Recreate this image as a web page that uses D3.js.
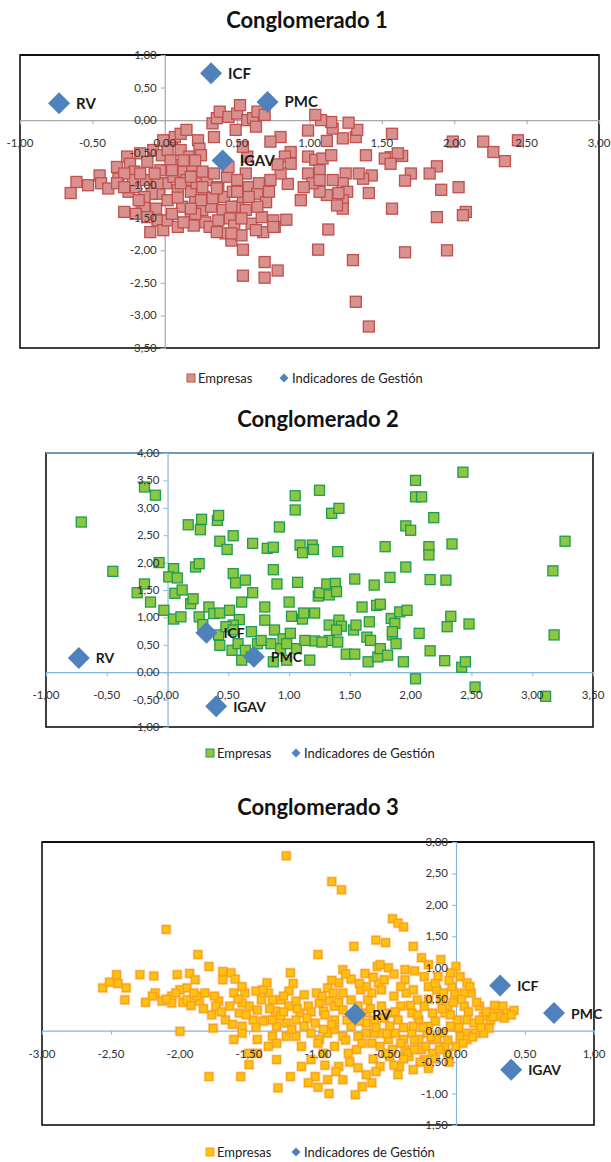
<!DOCTYPE html>
<html>
<head>
<meta charset="utf-8">
<script src="https://cdn.jsdelivr.net/npm/d3@7"></script>
<style>
  html, body { margin: 0; padding: 0; background: #fff; }
  svg { display: block; font-family: Lato, "Open Sans", sans-serif; }
</style>
</head>
<body>
<svg id="chart" width="611" height="1162"></svg>
<script>
// Indicadores de gestión (same coordinates in the three clusters)
const indicatorNames = ["RV", "ICF", "PMC", "IGAV"];
const indicatorX = [-0.73, 0.32, 0.71, 0.40];
const indicatorY = [0.26, 0.72, 0.28, -0.62];

const titles = ["Conglomerado 1", "Conglomerado 2", "Conglomerado 3"];
const legendLabels = ["Empresas", "Indicadores de Gestión"];

// Axis tick values
const ticksX1 = [-1, -0.5, 0, 0.5, 1, 1.5, 2, 2.5, 3];
const ticksY1 = [1, 0.5, 0, -0.5, -1, -1.5, -2, -2.5, -3, -3.5];
const ticksX2 = [-1, -0.5, 0, 0.5, 1, 1.5, 2, 2.5, 3, 3.5];
const ticksY2 = [4, 3.5, 3, 2.5, 2, 1.5, 1, 0.5, 0, -0.5, -1];
const ticksX3 = [-3, -2.5, -2, -1.5, -1, -0.5, 0, 0.5, 1];
const ticksY3 = [3, 2.5, 2, 1.5, 1, 0.5, 0, -0.5, -1, -1.5];

// Empresas, conglomerado 1 [x, y]
const empresas1 = [
  [2.44,-0.31],[2.20,-0.33],[2.27,-0.49],[2.35,-0.63],[1.99,-0.33],[2.03,-1.03],[1.91,-1.07],[1.88,-0.71],
  [1.83,-0.82],[1.70,-0.82],[1.66,-0.93],[2.08,-1.41],[2.06,-1.46],[1.88,-1.49],[1.95,-2.00],[1.66,-2.03],
  [1.57,-1.36],[1.30,-2.15],[1.32,-2.79],[1.41,-3.17],[1.06,-1.99],[1.13,-1.68],[0.78,-2.31],[0.69,-2.18],
  [0.69,-2.42],[0.54,-2.39],[0.54,-1.99],[0.84,-1.53],[0.76,-1.64],[1.57,-0.21],[1.56,-0.57],[1.52,-0.59],
  [1.64,-0.55],[1.61,-0.51],[1.56,-0.67],[1.39,-0.54],[1.43,-0.85],[1.41,-1.12],[1.37,-0.90],[1.32,-0.26],
  [1.33,-0.15],[1.27,-0.04],[1.23,-0.28],[1.16,-0.13],[1.15,-0.03],[1.08,0.00],[1.04,0.08],[1.12,-0.32],
  [0.99,-0.16],[0.80,-0.26],[0.73,-0.33],[0.87,-0.49],[0.83,-0.56],[0.87,-0.67],[0.99,-0.56],[1.04,-0.61],
  [1.09,-0.59],[1.15,-0.54],[1.07,-0.77],[0.99,-0.82],[1.25,-0.82],[1.23,-0.97],[1.26,-1.10],[1.23,-1.23],
  [1.23,-1.36],[1.19,-1.31],[1.16,-0.92],[1.12,-1.15],[1.07,-1.10],[1.02,-0.97],[0.96,-1.03],[0.94,-1.23],
  [1.07,-0.92],[1.34,-0.82],[1.20,-1.12],[0.85,-0.98],[0.80,-0.82],[0.78,-0.68],[0.73,-0.92],
  [-0.65,-1.12],[-0.61,-0.95],[-0.53,-1.00],[-0.45,-0.85],[-0.44,-0.97],[-0.39,-1.05],[-0.33,-0.72],[-0.32,-0.90],
  [-0.28,-1.41],[-0.26,-0.56],[-0.24,-0.67],[-0.25,-1.10],[-0.21,-0.79],[-0.20,-1.03],[-0.17,-0.51],[-0.16,-1.28],
  [-0.14,-1.33],[-0.10,-1.72],[-0.13,-0.92],[-0.12,-0.64],[-0.08,-0.46],[-0.06,-1.36],[-0.05,-1.54],[-0.04,-1.13],
  [-0.03,-0.77],[-0.02,-0.54],[-0.01,-1.69],[0.01,-0.97],[0.02,-1.54],[0.02,-1.23],[0.05,-0.31],[0.06,-0.87],
  [0.07,-0.26],[0.08,-0.69],[0.09,-1.07],[0.11,-0.46],[0.11,-0.21],[0.12,-1.33],[0.13,-0.79],[0.15,-0.92],
  [0.15,-0.15],[0.17,-0.56],[0.18,-1.49],[0.18,-1.10],[0.19,-0.70],[0.20,-1.62],[0.21,-1.26],[0.22,-0.97],
  [0.23,-0.31],[0.24,-0.44],[0.25,-0.54],[0.26,-1.38],[0.27,-1.18],[0.28,-1.57],[0.29,-0.92],[0.31,-1.64],
  [0.32,-1.33],[0.33,-0.05],[0.34,-0.26],[0.36,0.03],[0.37,-1.03],[0.38,0.13],[0.40,-1.38],[0.41,-1.18],
  [0.42,-1.74],[0.43,-0.87],[0.44,0.05],[0.45,-1.51],[0.46,-1.85],[0.47,-1.10],[0.48,-1.62],[0.49,-0.15],
  [0.50,0.10],[0.51,-1.33],[0.52,0.23],[0.53,-1.77],[0.54,-1.18],[0.56,-0.82],[0.57,-0.56],[0.57,0.00],
  [0.58,-1.03],[0.60,-1.59],[0.61,0.03],[0.63,-0.10],[0.64,0.13],[0.64,-1.13],[0.65,-0.97],[0.67,-1.49],
  [0.68,-1.72],[0.69,0.08],[0.70,-1.26],[0.75,-1.54],[0.75,-1.64],[0.63,-1.69],[0.50,-1.10],[0.44,-0.72],
  [0.34,-0.82],[0.26,-0.79],[0.09,-1.64],[0.05,-1.44],[-0.05,-0.97],[-0.09,-1.13],[-0.14,-1.18],[-0.18,-1.23],
  [-0.22,-0.92],[-0.28,-0.82],[-0.33,-0.97],[0.02,-0.46],[-0.01,-0.31],[0.04,-0.62],[0.21,-0.62],[0.13,-0.62],
  [0.46,-1.33],[0.37,-1.54],[0.56,-1.38],[0.64,-1.33],[0.72,-1.10],[0.50,-0.92],[0.54,-0.41],[0.13,-1.57],
  [0.21,-1.44],[-0.20,-1.44],[-0.12,-1.49],[0.33,-1.20],[0.36,-1.05],[0.26,-1.03],[0.09,-1.19],[0.11,-0.97],
  [0.18,-0.87],[0.25,-1.23],[0.05,-0.77],[-0.07,-0.82],[-0.17,-0.82],[-0.28,-1.03],[0.58,-1.18],[0.53,-1.51],
  [0.46,-1.74],[0.36,-1.72],[0.18,-1.36]
];

// Empresas, conglomerado 2 [x, y]
const empresas2 = [
  [-0.71,2.74],[-0.45,1.84],[-0.19,3.38],[-0.10,3.23],[-0.25,1.45],[-0.19,1.61],[-0.14,1.28],[-0.07,2.00],
  [-0.03,1.13],[0.05,1.89],[0.01,1.74],[0.08,1.72],[0.06,1.44],[0.05,0.97],[0.12,1.50],[0.11,1.01],
  [0.17,2.69],[0.19,1.25],[0.21,1.34],[0.23,1.92],[0.26,1.98],[0.27,2.60],[0.28,2.79],[0.26,1.01],
  [0.29,0.87],[0.34,1.19],[0.41,2.77],[0.42,2.86],[0.43,2.39],[0.38,1.07],[0.43,1.08],[0.49,2.24],
  [0.54,2.49],[0.51,1.13],[0.54,1.80],[0.56,1.63],[0.61,1.28],[0.59,0.96],[0.54,0.86],[0.64,1.68],
  [0.70,1.45],[0.70,2.35],[0.42,0.68],[0.43,0.49],[0.53,0.40],[0.61,0.22],[0.58,0.52],[0.69,0.74],
  [0.74,0.52],[0.82,2.26],[0.87,2.28],[0.87,1.87],[0.80,1.19],[0.80,0.95],[0.90,1.61],[0.92,2.65],
  [0.88,0.77],[0.85,0.52],[0.87,0.19],[0.95,0.61],[0.98,0.22],[1.00,1.28],[1.02,1.02],[1.01,0.71],
  [1.05,2.96],[1.05,3.22],[1.07,1.64],[1.09,2.32],[1.11,2.18],[1.11,0.97],[1.12,1.08],[1.06,0.43],
  [1.17,0.22],[1.19,2.32],[1.20,2.24],[1.21,1.08],[1.21,0.57],[1.24,1.39],[1.25,1.45],[1.25,3.32],
  [1.31,1.61],[1.33,1.41],[1.33,0.86],[1.33,0.58],[1.35,2.90],[1.38,1.62],[1.39,1.47],[1.41,2.99],
  [1.40,2.20],[1.41,0.95],[1.43,0.84],[1.40,0.55],[1.47,0.33],[1.54,0.33],[1.54,1.70],[1.53,0.77],
  [1.55,0.86],[1.60,1.19],[1.64,0.64],[1.65,0.19],[1.66,0.92],[1.67,0.58],[1.70,1.59],[1.72,1.22],
  [1.75,1.24],[1.73,0.28],[1.75,0.43],[1.79,2.29],[1.81,0.31],[1.83,1.73],[1.84,0.98],[1.85,0.68],
  [1.87,0.89],[1.88,0.52],[1.91,1.10],[1.94,0.19],[1.96,1.92],[1.97,1.13],[1.96,2.67],[2.00,2.59],
  [2.04,3.50],[2.04,3.20],[2.09,3.20],[2.04,-0.12],[2.07,0.71],[2.15,2.29],[2.15,2.14],[2.16,1.69],
  [2.16,0.39],[2.19,2.82],[2.28,0.21],[2.29,1.68],[2.30,0.83],[2.33,1.02],[2.34,2.34],[2.42,0.09],
  [2.43,3.65],[2.45,0.19],[2.48,0.88],[2.53,-0.27],[3.11,-0.44],[3.17,1.85],[3.18,0.68],[3.27,2.39],
  [0.48,0.83],[0.54,0.77],[0.64,0.40],[0.69,0.28],[0.77,0.58],[0.93,0.43],[0.98,0.52],[1.13,0.58],
  [1.27,0.55],[1.39,0.77],[1.85,0.74]
];

// Empresas, conglomerado 3 [x, y]
const empresas3 = [
  [-1.23,2.78],[-0.90,2.37],[-0.83,2.24],[-2.10,1.61],[-0.46,1.78],[-0.42,1.71],[-0.38,1.65],[-0.58,1.44],
  [-0.51,1.40],[-0.74,1.34],[-0.31,1.34],[-1.00,1.21],[-1.87,1.21],[-0.25,1.16],[-0.11,1.13],[0.00,1.02],
  [-1.79,1.02],[-1.20,0.92],[-0.82,0.97],[-1.69,0.94],[-1.63,0.92],[-2.46,0.89],[-2.29,0.89],[-2.19,0.87],
  [-2.02,0.89],[-1.93,0.91],[-1.89,0.81],[-2.56,0.68],[-2.51,0.77],[-2.39,0.68],[-2.40,0.49],[-2.18,0.60],
  [-2.13,0.47],[-2.06,0.55],[-2.00,0.65],[-1.95,0.68],[-1.98,0.45],[-2.00,-0.01],[-1.86,0.47],[-1.82,0.60],
  [-1.76,0.04],[-1.79,-0.73],[-1.56,-0.73],[-1.29,-0.91],[-1.20,-0.73],[-1.30,-0.46],[-1.50,-0.54],[-1.44,-0.14],
  [-1.61,-0.14],[-1.57,0.28],[-1.67,0.17],[-1.69,0.81],[-1.60,0.82],[-1.37,0.76],[-1.36,0.60],[-1.45,0.63],
  [-1.50,0.39],[-1.72,0.47],[-1.77,0.25],[-1.21,0.63],[-1.16,0.47],[-1.27,0.49],[-1.31,0.31],[-1.38,0.17],
  [-1.23,0.12],[-1.13,0.28],[-1.07,0.39],[-1.10,0.57],[-1.01,0.60],[-0.93,0.68],[-0.85,0.76],[-0.76,0.82],
  [-0.66,0.91],[-0.57,1.02],[-0.49,1.00],[-0.56,0.76],[-0.64,0.49],[-0.52,0.81],[-0.37,0.81],[-0.36,0.60],
  [-0.23,0.86],[-0.20,0.70],[-0.13,0.86],[-0.04,0.92],[0.03,0.86],[0.08,0.76],[0.11,0.60],[0.17,0.39],
  [0.20,0.23],[0.25,0.17],[0.30,0.31],[0.34,0.39],[0.37,0.28],[0.42,0.32],[0.32,0.23],[0.24,0.04],
  [0.14,-0.04],[0.08,0.17],[0.06,0.39],[-0.01,0.60],[-0.06,0.39],[-0.11,0.49],[-0.17,0.28],[-0.23,0.39],
  [-0.28,0.49],[-0.27,0.17],[-0.32,0.28],[-0.40,0.39],[-0.45,0.55],[-0.48,0.28],[-0.54,0.39],[-0.59,0.17],
  [-0.65,0.28],[-0.71,0.39],[-0.76,0.49],[-0.82,0.33],[-0.88,0.17],[-0.92,0.47],[-0.96,0.31],[-1.02,0.12],
  [-1.05,-0.04],[-0.99,-0.14],[-0.93,-0.04],[-0.88,-0.25],[-0.82,-0.09],[-0.76,0.07],[-0.71,-0.09],[-0.65,-0.04],
  [-0.61,-0.20],[-0.55,-0.04],[-0.49,-0.14],[-0.44,-0.04],[-0.38,-0.14],[-0.32,-0.04],[-0.27,-0.14],[-0.21,-0.04],
  [-0.16,-0.14],[-0.10,-0.04],[-0.04,0.07],[0.01,0.17],[0.07,-0.04],[0.13,0.12],[0.03,-0.09],[-0.08,-0.25],
  [-0.17,-0.36],[-0.25,-0.30],[-0.34,-0.41],[-0.41,-0.57],[-0.42,-0.70],[-0.48,-0.41],[-0.55,-0.57],[-0.61,-0.83],
  [-0.68,-0.89],[-0.73,-1.02],[-0.71,-0.59],[-0.72,-0.30],[-0.78,-0.36],[-0.85,-0.57],[-0.82,-0.78],[-0.92,-1.00],
  [-0.93,-0.78],[-1.02,-0.73],[-1.07,-0.83],[-1.12,-0.57],[-1.05,-0.46],[-0.96,-0.36],[-1.16,-0.09],[-1.23,-0.09],
  [-1.33,-0.09],[-1.44,-0.36],[-1.50,-0.36],[-1.55,0.07],[-1.64,0.39],[-1.53,0.60],[-1.44,0.33],[-1.33,0.49],
  [-1.30,0.07],[-1.16,0.17],[-1.10,0.07],[-0.31,-0.62],[-0.14,-0.14],[0.20,-0.04],[0.25,0.28],[-0.03,0.70],
  [-0.14,0.65],[-0.31,0.65],[-0.37,0.97],[-0.54,0.65],[-0.61,0.60],[-0.69,0.65],[-0.82,0.60],[-0.89,0.60],
  [-0.99,0.44],[-0.88,0.39],[-0.59,-0.04],[-0.51,-0.36],[-0.37,-0.30],[-0.23,-0.46],[-0.06,-0.36],[0.00,-0.25],
  [0.08,-0.14],[0.17,0.17],[0.06,0.60],[-0.08,0.28],[-0.20,0.07],[-0.31,0.07],[-0.42,0.17],[-0.48,0.07],
  [-0.65,0.12],[-0.79,0.17],[-0.96,0.02],[-0.88,0.02],[-1.33,0.17],[-1.47,0.17],[-1.55,0.44],[-1.95,0.49],
  [-2.06,0.44],[-1.88,0.55],[-1.74,0.39],[-1.61,0.60],[-1.41,0.49],[-1.21,0.39],[-1.27,0.23],[-1.19,0.02],
  [-1.36,-0.25],[-1.55,-0.04],
  [-0.95,0.25],[-0.90,0.10],[-0.85,0.45],[-0.80,-0.15],[-0.75,0.25],[-0.70,0.15],[-0.68,-0.20],[-0.62,0.35],
  [-0.58,0.05],[-0.55,-0.25],[-0.52,0.20],[-0.50,-0.05],[-0.46,-0.30],[-0.44,0.30],[-0.40,-0.20],[-0.38,0.05],
  [-0.35,-0.35],[-0.33,0.40],[-0.30,-0.15],[-0.28,0.25],[-0.26,-0.50],[-0.24,0.05],[-0.22,-0.25],[-0.20,0.50],
  [-0.18,-0.10],[-0.15,0.15],[-0.12,-0.30],[-0.10,0.35],[-0.09,0.60],[-0.06,-0.15],[-0.04,0.25],[-0.02,0.45],
  [0.02,0.05],[0.04,0.50],[0.05,-0.20],[0.09,0.30],[0.10,0.70],[0.12,-0.10],[0.15,0.45],[0.18,0.05],
  [0.22,0.30],[0.27,0.22],[0.35,0.20],[0.40,0.25],[0.28,0.40],
  [-1.05,0.30],[-1.00,-0.20],[-0.97,0.55],[-1.08,0.20],[-1.15,0.35],[-1.12,-0.25],[-1.25,0.30],[-1.30,-0.20],
  [-1.35,0.35],[-1.40,0.15],[-1.45,0.05],[-1.52,0.25],[-1.58,0.50],[-1.62,0.10],[-1.70,0.30],[-1.75,0.55],
  [-1.83,0.35],[-1.90,0.60],[-1.92,0.40],[-2.03,0.60],[-2.10,0.50],[-2.20,0.55],[-2.25,0.45],[-2.45,0.75],
  [-1.25,0.55],[-1.18,0.75],[-1.40,0.65],[-1.55,0.70],
  [-0.60,-0.45],[-0.65,-0.70],[-0.77,-0.50],[-0.87,-0.65],[-0.95,-0.55],[-1.00,-0.90],[-0.58,-0.65],[-0.45,-0.55],
  [-0.38,-0.45],[-0.30,-0.30],[-0.15,-0.45],[-0.05,-0.50],[-0.20,-0.60],
  [-0.65,0.70],[-0.60,0.85],[-0.45,0.90],[-0.40,0.70],[-0.30,0.95],[-0.20,1.05],[-0.15,0.75],[-0.05,0.80],
  [-0.55,1.05],[-0.70,0.75],[-0.80,0.90],[-0.90,0.80]
];

const fmt = d3.formatLocale({ decimal: ",", thousands: ".", grouping: [3], currency: ["", ""], minus: "-" }).format(".2f");

const panels = [
  { title: titles[0], titleX: 307, titleY: 28, data: empresas1,
    left: 20, right: 599, top: 55, bottom: 348,
    xDomain: [-1, 3], yDomain: [-3.5, 1], xTicks: ticksX1, yTicks: ticksY1,
    axisColor: "#a8a8a8", topColor: "#000", size: 11, halo: null,
    fill: "#d9918f", stroke: "#c0504d", labelSize: 15,
    legendY: 378, legendX: 191, legendGap: 93 },
  { title: titles[1], titleX: 318, titleY: 427, data: empresas2,
    left: 46, right: 593, top: 453, bottom: 727,
    xDomain: [-1, 3.5], yDomain: [-1, 4], xTicks: ticksX2, yTicks: ticksY2,
    axisColor: "#86b6dc", topColor: "#86b6dc", size: 10, halo: null,
    fill: "#8dc63f", stroke: "#1f9b55", labelSize: 14,
    legendY: 753, legendX: 210, legendGap: 86 },
  { title: titles[2], titleX: 318, titleY: 815, data: empresas3,
    left: 42, right: 594, top: 842, bottom: 1125,
    xDomain: [-3, 1], yDomain: [-1.5, 3], xTicks: ticksX3, yTicks: ticksY3,
    axisColor: "#86b6dc", topColor: "#000", size: 7.5, halo: "rgba(247,150,40,0.35)",
    fill: "#ffc20e", stroke: "#f8a11c", labelSize: 14,
    legendY: 1152, legendX: 210, legendGap: 86 }
];

const svg = d3.select("#chart");
const indicators = indicatorNames.map((n, i) => ({ name: n, x: indicatorX[i], y: indicatorY[i] }));
const diamond = r => `M0,${-r}L${r},0L0,${r}L${-r},0Z`;

panels.forEach(p => {
  const g = svg.append("g");
  const x = d3.scaleLinear().domain(p.xDomain).range([p.left, p.right]);
  const y = d3.scaleLinear().domain(p.yDomain).range([p.bottom, p.top]);
  const x0 = x(0), y0 = y(0);

  // title
  g.append("text").attr("x", p.titleX).attr("y", p.titleY)
    .attr("text-anchor", "middle").attr("font-size", 22).attr("font-weight", 700)
    .attr("fill", "#111").text(p.title);

  // plot area border
  g.append("rect").attr("x", p.left).attr("y", p.top)
    .attr("width", p.right - p.left).attr("height", p.bottom - p.top)
    .attr("fill", "none").attr("stroke", "#111").attr("stroke-width", 1.6);
  g.append("line").attr("x1", p.left).attr("x2", p.right).attr("y1", p.top).attr("y2", p.top)
    .attr("stroke", p.topColor).attr("stroke-width", 1.6);

  // axes crossing at the origin
  const xAxis = d3.axisBottom(x).tickValues(p.xTicks).tickSize(4).tickFormat(() => "");
  const gx = g.append("g").attr("transform", `translate(0,${y0})`).call(xAxis);
  const yAxis = d3.axisLeft(y).tickValues(p.yTicks).tickSize(4).tickFormat(() => "");
  const gy = g.append("g").attr("transform", `translate(${x0},0)`).call(yAxis);
  [gx, gy].forEach(a => {
    a.select(".domain").attr("stroke", p.axisColor).attr("stroke-width", 1.2);
    a.selectAll(".tick line").attr("stroke", p.axisColor);
  });

  // empresas (soft halo first where the markers glow)
  if (p.halo) {
    g.append("g").selectAll("rect").data(p.data).join("rect")
      .attr("x", d => x(d[0]) - p.size / 2 - 1.5).attr("y", d => y(d[1]) - p.size / 2 - 1.5)
      .attr("width", p.size + 3).attr("height", p.size + 3)
      .attr("fill", p.halo);
  }
  g.append("g").selectAll("rect").data(p.data).join("rect")
    .attr("x", d => x(d[0]) - p.size / 2).attr("y", d => y(d[1]) - p.size / 2)
    .attr("width", p.size).attr("height", p.size)
    .attr("fill", p.fill).attr("stroke", p.stroke).attr("stroke-width", 1.3);

  // tick labels
  g.append("g").selectAll("text").data(p.xTicks).join("text")
    .attr("x", d => x(d)).attr("y", y0 + 27)
    .attr("text-anchor", "middle").attr("font-size", 11.5).attr("fill", "#333")
    .text(d => fmt(d));
  g.append("g").selectAll("text").data(p.yTicks).join("text")
    .attr("x", x0 - 8).attr("y", d => y(d) + 4)
    .attr("text-anchor", "end").attr("font-size", 11.5).attr("fill", "#333")
    .text(d => fmt(d));

  // indicadores de gestión
  const ind = g.append("g").selectAll("g").data(indicators).join("g")
    .attr("transform", d => `translate(${x(d.x)},${y(d.y)})`);
  ind.append("path").attr("d", diamond(11)).attr("fill", "#4f81bd");
  ind.append("text").attr("x", 17).attr("y", 5.5)
    .attr("font-size", p.labelSize).attr("font-weight", 700).attr("fill", "#1a1a1a")
    .text(d => d.name);

  // legend
  const lg = g.append("g").attr("transform", `translate(${p.legendX},${p.legendY})`);
  lg.append("rect").attr("x", -4).attr("y", -4).attr("width", 8).attr("height", 8)
    .attr("fill", p.fill).attr("stroke", p.stroke).attr("stroke-width", 1);
  lg.append("text").attr("x", 7).attr("y", 4.5).attr("font-size", 13).attr("fill", "#222")
    .text(legendLabels[0]);
  lg.append("path").attr("transform", `translate(${p.legendGap},0)`).attr("d", diamond(4.5))
    .attr("fill", "#4f81bd");
  lg.append("text").attr("x", p.legendGap + 8).attr("y", 4.5).attr("font-size", 13).attr("fill", "#222")
    .text(legendLabels[1]);
});
</script>
</body>
</html>
